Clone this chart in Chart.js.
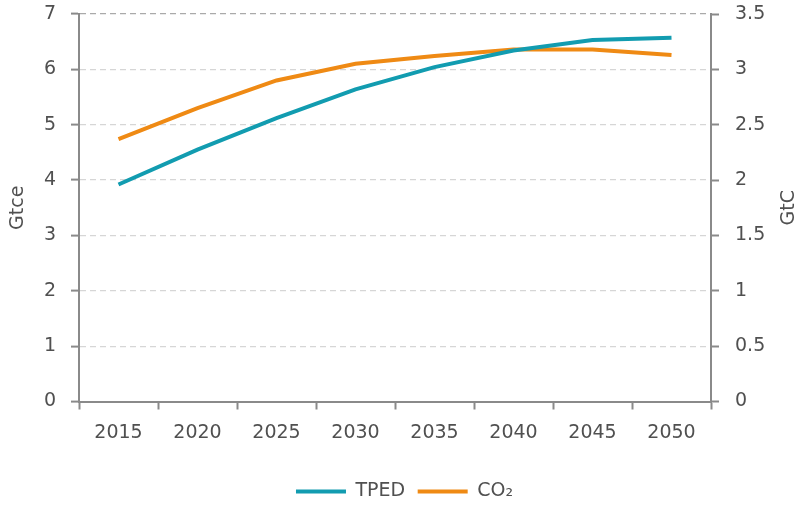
<!DOCTYPE html>
<html lang="en">
<head>
<meta charset="UTF-8">
<title>TPED and CO2</title>
<script src="https://cdn.jsdelivr.net/npm/chart.js"></script>
<style>
  body { margin: 0; background: #fff; }
  #wrap { width: 809px; height: 505px; }
</style>
</head>
<body>
<div id="wrap"><canvas id="chart"></canvas></div>
<script>
  // data
  const years = ['2015', '2020', '2025', '2030', '2035', '2040', '2045', '2050'];
  const tped = [3.92, 4.55, 5.12, 5.64, 6.04, 6.34, 6.53, 6.57];   // Gtce
  const co2 = [2.37, 2.65, 2.90, 3.05, 3.12, 3.18, 3.18, 3.13];    // GtC
  const leftTicks = [0, 1, 2, 3, 4, 5, 6, 7];
  const rightTicks = [0, 0.5, 1, 1.5, 2, 2.5, 3, 3.5];

  const textColor = '#505050';
  const axisColor = '#8a8a8a';
  const font = { family: 'DejaVu Sans', size: 19 };

  // right axis title reads bottom-to-top like the left one
  const rightTitle = {
    id: 'rightTitle',
    afterDraw(chart) {
      const ctx = chart.ctx, area = chart.chartArea;
      ctx.save();
      ctx.translate(chart.width - 20, (area.top + area.bottom) / 2);
      ctx.rotate(-Math.PI / 2);
      ctx.fillStyle = textColor;
      ctx.font = '19px "DejaVu Sans"';
      ctx.textAlign = 'center';
      ctx.textBaseline = 'middle';
      ctx.fillText('GtC', 0, 0);
      ctx.restore();
    }
  };

  // keep the big tick padding from pushing the plot area down
  function fixVertical(width) {
    return function (scale) {
      scale.width = width;
      scale.paddingTop = 14;
      scale.paddingBottom = 0;
    };
  }

  new Chart(document.getElementById('chart'), {
    type: 'line',
    data: {
      labels: years,
      datasets: [{
        label: 'TPED',
        data: tped,
        yAxisID: 'y',
        borderColor: '#129cb0',
        backgroundColor: '#129cb0',
        borderWidth: 4,
        pointRadius: 0,
        tension: 0
      }, {
        label: 'CO\u2082',
        data: co2,
        yAxisID: 'y1',
        borderColor: '#ef8a14',
        backgroundColor: '#ef8a14',
        borderWidth: 4,
        pointRadius: 0,
        tension: 0
      }]
    },
    options: {
      responsive: true,
      maintainAspectRatio: false,
      animation: false,
      layout: { padding: { top: 4, left: 0, right: 0, bottom: -6 } },
      plugins: {
        tooltip: { enabled: false },
        legend: {
          position: 'bottom',
          labels: {
            boxWidth: 50,
            boxHeight: 4,
            padding: 12.5,
            color: textColor,
            font: font,
            generateLabels(chart) {
              return chart.data.datasets.map((ds, i) => ({
                text: ds.label,
                fillStyle: ds.borderColor,
                strokeStyle: ds.borderColor,
                lineWidth: 0,
                fontColor: textColor,
                datasetIndex: i
              }));
            }
          }
        }
      },
      scales: {
        x: {
          offset: true,
          grid: {
            offset: true,
            drawOnChartArea: false,
            drawTicks: true,
            tickLength: 8,
            tickColor: axisColor,
            tickWidth: 2
          },
          border: { color: axisColor, width: 2 },
          ticks: { color: textColor, font: font, padding: 12 },
          afterFit(scale) { scale.height = 68; }
        },
        y: {
          position: 'left',
          min: 0,
          max: 7,
          afterBuildTicks(scale) { scale.ticks = leftTicks.map(v => ({ value: v })); },
          grid: {
            color: ctx => ctx.tick && ctx.tick.value === 7 ? '#aaa' : '#d6d6d6',
            lineWidth: 1.2,
            tickLength: 8,
            tickColor: axisColor,
            tickWidth: 2
          },
          border: { color: axisColor, width: 2, dash: [6, 4] },
          ticks: { color: textColor, font: font, padding: 15 },
          title: { display: true, text: 'Gtce', color: textColor, font: font, padding: { top: 7, bottom: 0 } },
          afterFit: fixVertical(79)
        },
        y1: {
          position: 'right',
          min: 0,
          max: 3.5,
          afterBuildTicks(scale) { scale.ticks = rightTicks.map(v => ({ value: v })); },
          grid: {
            drawOnChartArea: false,
            tickLength: 8,
            tickColor: axisColor,
            tickWidth: 2
          },
          border: { color: axisColor, width: 2 },
          ticks: { color: textColor, font: font, padding: 16, callback: v => String(v) },
          afterFit: fixVertical(98)
        }
      }
    },
    plugins: [rightTitle]
  });
</script>
</body>
</html>
